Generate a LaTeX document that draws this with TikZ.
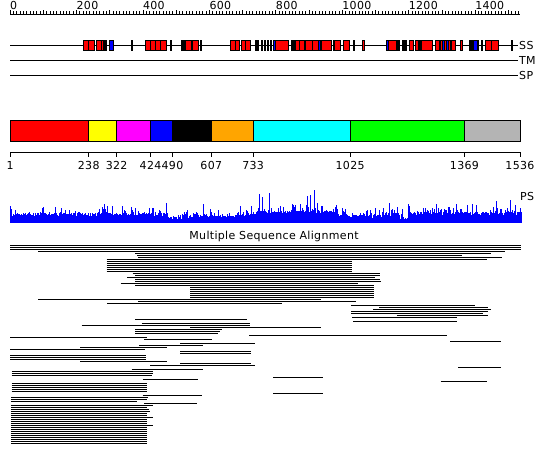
\documentclass[tikz,border=0pt]{standalone}
\usepackage{fontspec}
\setmainfont[LetterSpace=3]{DejaVu Sans}
\definecolor{segorange}{RGB}{255,165,0}
\definecolor{seggray}{RGB}{180,180,180}
\definecolor{segcyan}{RGB}{0,255,255}
\definecolor{segmagenta}{RGB}{255,0,255}
\definecolor{segblue}{RGB}{0,0,255}
\definecolor{segred}{RGB}{255,0,0}
\definecolor{seggreen}{RGB}{0,255,0}
\definecolor{segyellow}{RGB}{255,255,0}
\begin{document}
\begin{tikzpicture}[x=1pt,y=-1pt,
  lab/.style={font=\fontsize{11}{12}\selectfont, inner sep=0pt},
  track/.style={line width=0.9pt},
  ssr/.style={fill=segred, draw=black, line width=0.7pt},
  ssb/.style={fill=segblue, draw=black, line width=0.7pt},
  ssk/.style={fill=black, draw=black, line width=0.5pt},
  seg/.style={draw=black, line width=0.7pt},
  msa/.style={line width=1pt, black}]
\useasboundingbox (0,0) rectangle (550,465);
\fill[white] (0,0) rectangle (550,465);

% top ruler
\draw[track] (10,14.5) -- (520,14.5);
\foreach \p in {0,10,...,1530} {
  \pgfmathsetmacro\xx{10+0.3322*\p}
  \draw[line width=0.6pt] (\xx,14.5) -- (\xx,11.5);
}
\foreach \p in {0,100,...,1500} {
  \pgfmathsetmacro\xx{10+0.3322*\p}
  \draw[line width=0.6pt] (\xx,14.5) -- (\xx,10);
}
\foreach \p in {0,200,...,1400} {
  \pgfmathsetmacro\xx{10+0.3322*\p}
  \node[lab, anchor=base west] (r\p) at (\xx,9.5) {\p};
}

% SS / TM / SP tracks
\draw[track] (10,45) -- (518,45);
\draw[track] (10,60) -- (518,60);
\draw[track] (10,75) -- (518,75);
\node[lab, anchor=west] (ss) at (519,45.5) {SS};
\node[lab, anchor=west] (tm) at (519,60.5) {TM};
\node[lab, anchor=west] (sp) at (519,75.5) {SP};

\foreach \t/\a/\b in {
 r/83.3/88.5, r/88.5/94.3, r/96/101, r/101/103.5, k/103.5/106.7, b/109.3/113.3,
 k/131.2/132, r/145/150.3, r/150.3/155.3, r/155.3/160.3, r/160.3/166,
 k/170/171.5, k/181/185, r/185.5/191.5, r/192.5/198.7, k/200/201.3,
 r/230/235, r/235/239.5, r/241/245.5, r/245.5/250.5, k/255/258.5,
 k/261.5/262.3, k/264/264.8, k/267.5/268.3, k/270.3/271, b/273.5/275,
 r/275/288.3, k/291/291.8, k/292.7/294.3, r/295.5/299, r/299/304,
 r/305/312.3, r/312.3/318.5, b/318.5/320.5, r/321.7/331, b/333/334.5,
 r/334.5/340.5, r/343.3/349.5, k/353.5/354.3, r/362/364.3,
 b/386.5/388, r/388/396.7, k/396.7/399.3, k/402.7/406.7, r/409.3/413.3,
 r/415/418.3, b/419/420.5, r/421/432.7, r/435.3/439.3, r/440.3/442,
 b/442/444, r/444/446, b/446/448.3, r/448.3/450, r/451/455, r/460.3/462.7,
 k/469.3/473.5, b/473.5/477, r/477/478.3, k/481/481.8, r/485/491.7,
 r/491.7/498.7, k/511.5/512.3}
{ \draw[ss\t] (\a,40) rectangle (\b,50); }

% domain bar
\foreach \a/\b/\c in {1/238/segred, 238/322/segyellow, 322/424/segmagenta, 424/490/segblue,
  490/607/black, 607/733/segorange, 733/1025/segcyan, 1025/1369/seggreen, 1369/1536/seggray}
{
  \pgfmathsetmacro\xa{10+0.3322*(\a-1)}
  \pgfmathsetmacro\xb{10+0.3322*(\b-1)}
  \filldraw[seg, fill=\c] (\xa,120.5) rectangle (\xb,141.5);
}
\draw[track] (10,152.5) -- (520,152.5);
\foreach \p in {1,238,322,424,490,607,733,1025,1369,1536} {
  \pgfmathsetmacro\xx{10+0.3322*(\p-1)}
  \draw[line width=0.7pt] (\xx,152.5) -- (\xx,157.5);
  \node[lab, anchor=north] (b\p) at (\xx,161.5) {\p};
}

% PS profile
\pgfmathsetseed{11}
\foreach \x in {10.5,11,...,520.5} {
  \pgfmathsetmacro\r{rnd}
  \pgfmathsetmacro\s{rnd}
  \pgfmathsetmacro\h{6.5 - 3.5*(\x>165)*(\x<182) - 2*(\x>186)*(\x<235) - 1.5*(\x>338)*(\x<384) - 4*(\x>398)*(\x<409) + 2.5*(\x>255)*(\x<335) + 1*(\x>412) + 3.5*\r + 8*\s^7}
  \fill[segblue] (\x,223) rectangle (\x+0.55,223-\h);
}
\foreach \x/\y in {10.5/206.3, 104.2/204.5, 152.6/208, 166.7/203.5, 203.5/204.5,
  259.6/194, 262.5/197.5, 269.5/193.3, 280.7/206.3, 300/204.5, 307/195.8,
  310.5/194.7, 314/190.5, 317.5/206, 336.8/205, 389.5/202.8, 408.8/203.8,
  436.8/204.5, 456/204.5, 472/206, 496.5/201, 510.5/200.3, 515.8/205}
{ \fill[segblue] (\x-0.45,223) rectangle (\x+0.45,\y); }
\node[lab, anchor=west] (ps) at (520,196) {PS};

% multiple sequence alignment
\node[lab] (msatitle) at (274,236.5) {Multiple Sequence Alignment};
\foreach \y/\a/\b in {
 245.5/10/520.5, 247.5/10/520.5, 249.5/10/520.5, 251.5/38.3/505,
 253.5/135/491, 255.5/137/462.3, 257.5/138/501.7, 259.5/106.7/486.7,
 261.5/106.7/351.7, 263.5/106.7/351.7, 265.5/106.7/351.7, 267.5/106.7/351.7,
 269.5/106.7/351.7, 271.5/106.7/352.3, 273.5/132.7/380, 275.5/135/380,
 277.5/127.3/375, 279.5/135/380, 281.5/135/381, 283.5/120.7/357.7,
 285.5/135/374.3, 287.5/190/374.3, 289.5/190/374.3, 291.5/190/374.3,
 293.5/190/374.3, 295.5/190/374.3, 297.5/190/374.3, 299.5/38.3/320.7,
 301.5/138/355.7, 303.5/107.3/281.7, 305.5/351/475, 307.5/379/488.3,
 309.5/373.3/491, 311.5/351/488.3, 313.5/351/483.3, 315.5/396.7/488.3,
 317.5/352.3/456.7, 319.5/135/246.7, 321.5/353.3/456.7, 323.5/141.7/250,
 325.5/81.7/250, 327.5/190/320.7, 329.5/135/221.7, 331.5/135/220,
 333.5/135/218, 335.5/249/446.7, 337.5/10/146.7, 339.5/144/212.3,
 341.5/450/500.7, 343.5/180/255, 345.5/139.3/203.3, 347.5/80/166.7,
 349.5/10/145, 351.5/180/250.7, 353.5/180/250.7, 355.5/10/145.7,
 357.5/10/145.7, 359.5/10/145.7, 361.5/80/166.7, 363.5/180/250.7,
 365.5/150/255, 367.5/458.3/500.7, 369.5/131.7/203.3, 371.5/11.7/153.3,
 373.5/11.7/153.3, 375.5/11.7/151.7, 377.5/273/323.3, 379.5/142.7/197.7,
 381.5/440.7/487.3, 383.5/11.7/147.3, 385.5/11.7/147.3, 387.5/11.7/147.3,
 389.5/11.7/147.3, 391.5/11.7/147.3, 393.5/273/323.3, 395.5/142.7/202.3,
 397.5/11/148.3, 399.5/11/146.7, 401.5/11/136.7, 403.5/144.3/196.7,
 405.5/11/153.3, 407.5/11/146.7, 409.5/11/149, 411.5/11/150,
 413.5/11/146.7, 415.5/11/146.7, 417.5/11/153.3, 419.5/11/146.7,
 421.5/11/146.7, 423.5/11/146.7, 425.5/11/153.3, 427.5/11/146.7,
 429.5/11/146.7, 431.5/11/146.7, 433.5/11/146.7, 435.5/11/146.7,
 437.5/11/146.7, 439.5/11/146.7, 441.5/11/146.7, 443.5/11/146.7}
{ \draw[msa] (\a,\y) -- (\b,\y); }
\end{tikzpicture}
\end{document}
